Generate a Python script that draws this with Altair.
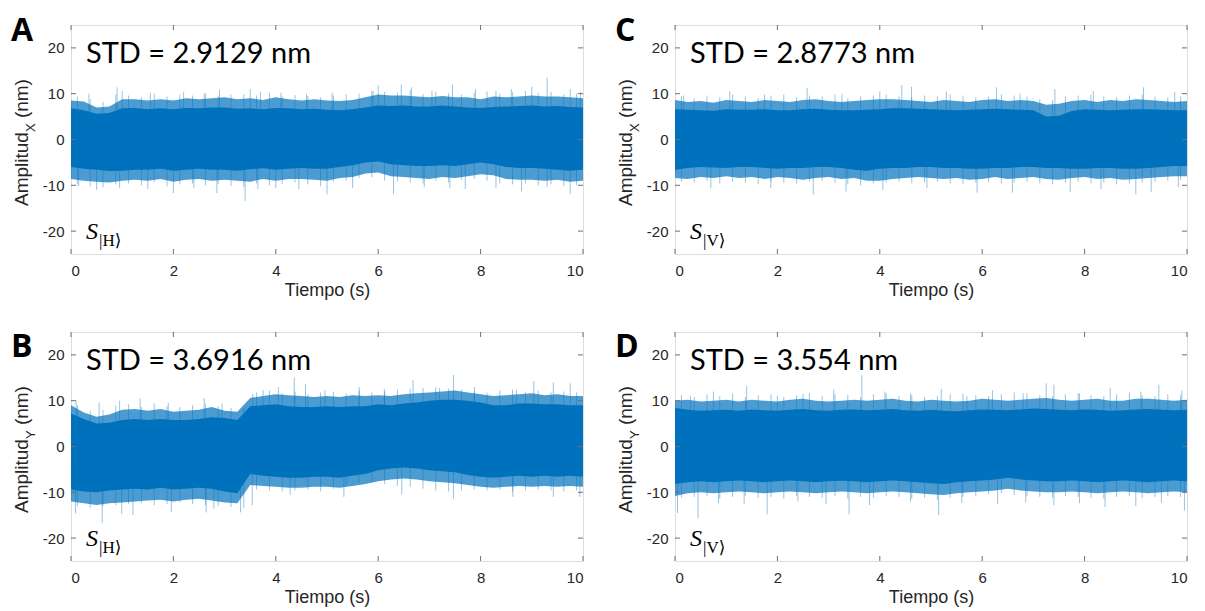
import altair as alt
import pandas as pd

# ---------------- data ----------------
T = [0, 0.25, 0.5, 0.75, 1, 1.25, 1.5, 1.75, 2, 2.25, 2.5, 2.75, 3, 3.25, 3.5, 3.75,
     4, 4.25, 4.5, 4.75, 5, 5.25, 5.5, 5.75, 6, 6.25, 6.5, 6.75, 7, 7.25, 7.5, 7.75,
     8, 8.25, 8.5, 8.75, 9, 9.25, 9.5, 9.75, 10]
T_MID = [0.125, 0.375, 0.625, 0.875, 1.125, 1.375, 1.625, 1.875, 2.125, 2.375, 2.625, 2.875,
         3.125, 3.375, 3.625, 3.875, 4.125, 4.375, 4.625, 4.875, 5.125, 5.375, 5.625, 5.875,
         6.125, 6.375, 6.625, 6.875, 7.125, 7.375, 7.625, 7.875, 8.125, 8.375, 8.625, 8.875,
         9.125, 9.375, 9.625, 9.875]

XTICKS = [0, 2, 4, 6, 8, 10]
YTICKS = [-20, -10, 0, 10, 20]

# Panel A  (Amplitud X, S|H>)
A_fr_hi = [8.5, 8.3, 7.0, 7.2, 8.8, 8.8, 8.5, 8.8, 8.5, 9.0, 8.8, 9.0, 9.2, 8.8, 9.0, 8.6, 9.2, 8.8, 8.5, 8.8, 8.5,
           8.4, 8.6, 9.2, 9.8, 9.6, 9.6, 9.4, 9.2, 9.5, 9.2, 9.2, 8.8, 9.4, 9.2, 9.4, 9.6, 9.4, 9.4, 9.2, 9.0]
A_co_hi = [6.8, 6.4, 5.6, 5.8, 6.8, 6.9, 6.6, 6.8, 6.6, 6.9, 6.8, 7.0, 7.0, 6.7, 6.8, 6.6, 6.9, 6.8, 6.6, 6.7, 6.5,
           6.4, 6.6, 7.0, 7.4, 7.3, 7.4, 7.2, 7.2, 7.4, 7.2, 7.0, 6.9, 7.1, 7.2, 7.3, 7.4, 7.2, 7.3, 7.1, 7.0]
A_co_lo = [-6.0, -6.4, -6.6, -6.9, -6.8, -6.6, -6.6, -6.4, -6.8, -6.6, -6.4, -6.6, -6.6, -6.8, -6.5, -6.3, -6.6,
           -6.4, -6.2, -6.4, -6.4, -6.0, -5.6, -5.0, -4.8, -5.4, -5.6, -5.8, -5.8, -5.6, -5.8, -5.4, -5.0, -5.4,
           -6.0, -6.2, -6.2, -6.4, -6.6, -6.8, -6.6]
A_fr_lo = [-8.6, -9.0, -9.2, -9.4, -9.0, -8.8, -9.0, -8.6, -9.2, -8.8, -8.6, -9.0, -8.8, -9.0, -9.2, -8.6, -9.0,
           -8.6, -8.6, -8.8, -9.0, -8.4, -8.2, -7.4, -7.2, -8.0, -8.2, -8.4, -8.6, -8.2, -8.4, -8.0, -7.6, -7.8,
           -8.6, -8.8, -8.8, -9.0, -8.8, -9.2, -9.0]
A_mid_up = [9.4, 8.8, 8.2, 9.8, 9.6, 9.2, 10.0, 9.4, 9.8, 9.6, 10.1, 9.4, 9.8, 9.9, 9.6, 10.2, 9.4, 9.7, 9.5, 9.2,
            9.6, 9.9, 10.0, 10.6, 10.4, 10.2, 10.8, 9.9, 10.4, 10.1, 9.8, 10.2, 10.5, 10.0, 10.3, 10.6, 10.2, 10.4,
            9.9, 10.1]
A_mid_dn = [-9.8, -10.2, -10.4, -9.8, -9.6, -10.0, -9.4, -10.2, -9.8, -9.6, -10.0, -9.7, -10.1, -10.4, -9.6, -10.0,
            -9.8, -9.4, -9.8, -10.2, -9.2, -9.0, -8.4, -8.2, -9.0, -9.2, -9.4, -9.6, -9.0, -9.4, -8.8, -8.6, -9.0,
            -9.6, -9.8, -9.6, -10.0, -9.8, -10.2, -10.0]
A_up_t = [0.35, 0.9, 1.0, 1.55, 2.2, 2.6, 2.9, 3.5, 3.7, 4.1, 4.6, 5.1, 5.9, 6.0, 6.45, 6.65, 7.05, 7.45, 7.9, 8.3,
          8.6, 9.0, 9.3, 9.75, 9.95]
A_up_v = [10.0, 11.4, 10.6, 10.2, 10.4, 10.0, 10.9, 11.0, 10.4, 10.2, 9.9, 10.2, 10.6, 11.8, 12.0, 11.4, 10.6, 12.0,
          11.0, 10.6, 11.0, 11.5, 13.5, 11.0, 10.4]
A_dn_t = [0.15, 0.5, 0.95, 1.5, 2.0, 2.4, 2.85, 3.4, 3.65, 4.0, 4.45, 5.0, 5.5, 6.3, 6.9, 7.4, 7.7, 8.3, 8.8, 9.3, 9.75]
A_dn_v = [-10.2, -11.0, -10.6, -10.8, -11.7, -10.6, -11.7, -13.4, -10.8, -10.6, -10.8, -12.0, -10.6, -11.9, -10.4,
          -10.6, -10.8, -10.6, -11.3, -10.4, -11.9]

# Panel B  (Amplitud Y, S|H>)
B_fr_hi = [9.0, 7.4, 6.5, 7.0, 8.0, 8.2, 7.8, 8.2, 7.6, 7.8, 8.0, 8.6, 7.8, 7.6, 10.6, 11.0, 11.4, 11.2, 11.0, 10.8,
           11.0, 10.8, 11.2, 11.0, 11.2, 11.0, 11.4, 11.6, 11.8, 12.0, 12.2, 11.8, 11.4, 11.0, 11.2, 11.4, 11.6,
           11.2, 11.4, 11.0, 11.0]
B_co_hi = [7.2, 6.0, 5.0, 5.2, 5.8, 6.0, 5.8, 6.0, 5.8, 5.8, 6.0, 6.4, 6.2, 5.8, 8.8, 9.0, 9.2, 8.8, 8.6, 8.6, 8.8,
           8.6, 8.8, 8.8, 9.2, 9.0, 9.4, 9.6, 10.0, 10.2, 10.2, 10.0, 9.6, 9.0, 9.0, 9.4, 9.4, 9.2, 9.2, 9.0, 9.0]
B_co_lo = [-9.4, -9.8, -10.0, -9.6, -9.4, -9.2, -9.4, -9.0, -9.4, -9.2, -9.0, -9.2, -9.8, -10.2, -6.0, -6.4, -6.6,
           -6.8, -6.8, -6.6, -6.6, -6.8, -6.4, -6.0, -5.2, -4.8, -4.6, -4.8, -5.2, -5.4, -5.6, -6.2, -6.6, -6.8,
           -6.6, -6.4, -6.6, -6.4, -6.6, -6.4, -6.6]
B_fr_lo = [-12.0, -12.4, -12.8, -12.4, -12.2, -12.0, -11.8, -11.6, -12.0, -11.6, -11.4, -11.8, -12.2, -12.4, -8.4,
           -8.6, -8.8, -9.0, -9.0, -8.8, -8.8, -9.0, -8.6, -8.2, -7.6, -7.2, -7.0, -7.2, -7.6, -7.8, -8.0, -8.4,
           -8.8, -9.0, -8.8, -8.6, -8.8, -8.6, -8.8, -8.6, -8.8]
B_mid_up = [9.0, 7.8, 8.0, 8.9, 9.2, 8.6, 9.4, 8.8, 8.6, 9.0, 9.4, 8.8, 8.4, 8.6, 11.8, 12.2, 11.6, 12.0, 11.4, 11.8,
            12.0, 11.6, 12.2, 11.8, 12.0, 12.4, 12.6, 12.8, 13.0, 12.6, 12.4, 12.0, 11.8, 12.2, 12.4, 12.0, 12.2,
            11.8, 12.0, 11.8]
B_mid_dn = [-13.0, -13.4, -13.0, -12.8, -12.6, -12.4, -12.8, -12.6, -12.2, -12.6, -12.8, -13.0, -13.2, -13.4, -9.4,
            -9.6, -9.8, -9.6, -9.4, -9.8, -9.2, -8.6, -8.0, -7.8, -8.2, -8.6, -8.8, -9.2, -9.6, -9.8, -9.6, -9.4,
            -9.6, -9.4, -9.8, -9.6, -9.4, -9.6, -9.8, -9.6]
B_up_t = [0.1, 0.55, 0.95, 1.35, 1.9, 2.6, 2.95, 3.55, 3.75, 4.05, 4.36, 4.58, 4.96, 5.63, 6.12, 6.68, 7.2, 7.47,
          7.88, 8.7, 9.04, 9.42, 9.75]
B_up_v = [10.0, 9.6, 10.0, 10.5, 9.5, 10.6, 9.4, 11.5, 12.3, 13.0, 15.0, 13.6, 12.3, 13.0, 12.5, 14.5, 12.8, 15.6,
          13.0, 12.4, 14.3, 14.0, 13.8]
B_dn_t = [0.09, 0.61, 0.99, 1.21, 1.96, 2.64, 2.79, 3.31, 3.54, 4.28, 5.33, 6.46, 7.47, 8.63, 9.42, 9.94]
B_dn_v = [-14.6, -16.6, -14.7, -15.0, -14.3, -14.4, -13.6, -14.4, -12.8, -10.6, -11.0, -10.5, -11.4, -11.0, -11.0,
          -11.0]

# Panel C  (Amplitud X, S|V>)
C_fr_hi = [8.6, 8.2, 8.4, 8.0, 8.6, 8.4, 8.2, 8.6, 8.4, 8.2, 8.6, 8.8, 8.4, 8.2, 8.4, 8.6, 8.8, 8.8, 8.6, 8.4, 8.2,
           8.6, 8.4, 8.2, 8.6, 8.8, 8.4, 8.6, 8.4, 7.6, 7.8, 8.4, 8.6, 8.2, 8.6, 8.4, 8.8, 8.6, 8.4, 8.2, 8.4]
C_co_hi = [6.6, 6.5, 6.4, 6.3, 6.6, 6.5, 6.5, 6.6, 6.4, 6.4, 6.6, 6.7, 6.5, 6.4, 6.4, 6.5, 6.6, 6.8, 6.8, 6.7, 6.6,
           6.5, 6.4, 6.5, 6.6, 6.7, 6.6, 6.5, 6.4, 5.0, 5.2, 6.2, 6.6, 6.5, 6.4, 6.5, 6.6, 6.6, 6.5, 6.4, 6.4]
C_co_lo = [-6.6, -6.2, -6.0, -6.1, -6.2, -6.0, -6.0, -6.2, -6.4, -6.2, -6.2, -6.0, -6.0, -6.2, -6.6, -6.8, -6.4,
           -6.2, -6.2, -6.0, -6.0, -6.2, -6.2, -6.4, -6.4, -6.2, -6.2, -6.0, -6.0, -6.2, -6.2, -6.4, -6.4, -6.2,
           -6.2, -6.4, -6.4, -6.2, -6.0, -5.8, -5.8]
C_fr_lo = [-8.4, -8.6, -8.2, -8.4, -8.0, -8.4, -8.2, -8.6, -8.2, -8.4, -8.8, -8.4, -8.2, -8.6, -8.4, -9.0, -9.0,
           -8.6, -8.4, -8.2, -8.4, -8.6, -8.4, -8.8, -8.6, -8.2, -8.6, -8.4, -8.2, -8.6, -8.8, -8.4, -8.2, -8.6,
           -8.4, -8.8, -8.6, -8.4, -8.2, -8.0, -8.0]
C_mid_up = [9.4, 9.0, 9.6, 9.2, 9.8, 9.4, 9.0, 9.6, 9.8, 9.2, 9.6, 9.4, 9.8, 9.0, 9.4, 9.6, 9.8, 9.4, 9.2, 9.6,
            9.4, 9.8, 9.6, 9.2, 9.4, 9.8, 9.6, 9.4, 8.8, 8.6, 9.4, 9.6, 9.8, 9.4, 9.2, 9.6, 9.8, 9.4, 9.2, 9.4]
C_mid_dn = [-9.2, -9.4, -9.0, -9.6, -9.2, -9.4, -9.8, -9.2, -9.4, -9.6, -9.2, -9.0, -9.4, -9.8, -10.0, -9.6, -9.4,
            -9.2, -9.6, -9.4, -9.2, -9.6, -9.8, -9.4, -9.2, -9.6, -9.4, -9.2, -9.6, -9.8, -9.4, -9.2, -9.6, -9.4,
            -9.8, -9.6, -9.4, -9.2, -9.0, -8.8]
C_up_t = [0.17, 1.07, 1.75, 2.58, 3.26, 4.0, 4.43, 4.62, 5.3, 6.28, 6.74, 7.42, 8.17, 9.15, 9.76]
C_up_v = [9.6, 10.5, 9.8, 11.3, 10.0, 10.5, 11.9, 11.5, 10.4, 11.4, 10.0, 11.0, 10.6, 11.4, 10.4]
C_dn_t = [0.7, 1.87, 2.7, 3.34, 4.06, 4.92, 5.9, 6.59, 7.72, 8.32, 9.0, 9.3, 9.83]
C_dn_v = [-10.6, -10.6, -12.0, -11.4, -11.0, -10.6, -11.6, -11.6, -11.4, -10.8, -12.0, -11.5, -10.4]

# Panel D  (Amplitud Y, S|V>)
D_fr_hi = [10.0, 10.2, 9.8, 10.0, 10.2, 9.8, 10.2, 10.0, 9.8, 10.2, 10.4, 10.0, 9.8, 10.0, 10.2, 10.0, 10.2, 10.4,
           10.0, 9.8, 10.2, 10.0, 9.8, 10.0, 10.4, 10.2, 10.0, 10.2, 10.4, 10.6, 10.2, 10.0, 10.2, 10.4, 10.0, 10.0,
           10.4, 10.4, 10.2, 10.0, 10.2]
D_co_hi = [8.4, 8.0, 7.8, 7.9, 8.0, 7.8, 8.1, 7.9, 7.8, 8.0, 8.2, 7.9, 7.8, 8.0, 8.1, 7.9, 8.0, 8.2, 7.9, 7.8, 8.0,
           7.8, 7.7, 7.9, 8.1, 8.0, 7.9, 8.1, 8.3, 8.2, 8.0, 7.9, 8.1, 8.0, 7.8, 7.9, 8.1, 8.2, 8.0, 7.9, 8.0]
D_co_lo = [-8.2, -7.8, -7.6, -7.8, -7.6, -7.4, -7.6, -7.8, -7.6, -7.4, -7.6, -7.8, -7.6, -7.5, -7.6, -7.8, -7.6,
           -7.4, -7.6, -7.8, -8.0, -8.2, -7.8, -7.6, -7.4, -7.2, -6.8, -7.2, -7.4, -7.6, -7.6, -7.4, -7.6, -7.8,
           -7.6, -7.4, -7.6, -7.8, -7.6, -7.4, -7.6]
D_fr_lo = [-10.8, -10.2, -10.0, -10.2, -10.0, -9.8, -10.0, -10.2, -10.0, -9.8, -10.0, -10.2, -10.0, -9.8, -10.0,
           -10.2, -10.0, -9.8, -10.0, -10.2, -10.4, -10.6, -10.2, -10.0, -9.8, -9.6, -9.2, -9.6, -9.8, -10.0, -10.0,
           -9.8, -10.0, -10.2, -10.0, -9.8, -10.0, -10.2, -10.0, -9.8, -10.0]
D_mid_up = [11.2, 10.8, 11.4, 11.0, 11.6, 10.8, 11.2, 11.4, 10.8, 11.2, 11.6, 11.0, 11.4, 11.2, 10.8, 11.4, 11.6,
            11.0, 11.2, 10.8, 11.0, 11.4, 11.6, 11.2, 11.0, 11.4, 11.8, 11.6, 11.2, 11.0, 11.4, 11.6, 11.2, 11.0,
            11.4, 11.8, 11.2, 11.0, 11.4, 11.2]
D_mid_dn = [-11.2, -11.0, -10.8, -11.4, -11.0, -10.8, -11.2, -11.0, -11.4, -10.8, -11.0, -11.2, -10.8, -11.4,
            -11.0, -11.2, -10.8, -11.0, -11.4, -11.2, -11.6, -11.2, -11.0, -10.8, -10.4, -10.2, -10.6, -10.8, -11.0,
            -11.2, -10.8, -11.0, -11.2, -11.4, -11.0, -10.8, -11.2, -11.0, -10.8, -11.0]
D_up_t = [0.3, 0.75, 1.4, 2.0, 2.5, 3.1, 3.65, 4.1, 4.6, 5.2, 5.7, 6.2, 6.8, 7.25, 7.4, 7.9, 8.5, 9.1, 9.45, 9.9]
D_up_v = [11.0, 12.0, 13.2, 11.0, 11.5, 12.4, 15.6, 12.0, 11.6, 12.6, 11.0, 12.3, 11.6, 13.8, 13.5, 11.6, 12.8,
          12.0, 13.5, 12.2]
D_dn_t = [0.05, 0.45, 0.85, 1.35, 1.8, 2.4, 2.95, 3.4, 3.8, 4.6, 5.15, 5.6, 6.3, 6.85, 7.4, 7.9, 8.4, 9.0, 9.5,
          9.95]
D_dn_v = [-14.5, -15.6, -12.4, -12.6, -14.8, -12.0, -12.6, -14.8, -12.8, -12.0, -15.0, -12.3, -12.5, -12.2, -12.8,
          -12.4, -13.2, -13.0, -12.3, -14.0]

LETTERS = ["A", "B", "C", "D"]
STD_TEXT = ["STD = 2.9129 nm", "STD = 3.6916 nm", "STD = 2.8773 nm", "STD = 3.554 nm"]
AXIS_SUB = ["X", "Y", "X", "Y"]
STATE = ["|H⟩", "|H⟩", "|V⟩", "|V⟩"]

# ---------------- styling ----------------
W, H = 512, 229
BLUE = "#0072BD"
TXT = "#262626"
BOX = "#6e6e6e"
SANS = "Liberation Sans"

XS = alt.Scale(domain=[0, 10], nice=False, zero=False)
YS = alt.Scale(domain=[-25, 25], nice=False, zero=False)
XAX = alt.Axis(values=XTICKS, title="Tiempo (s)", grid=False, ticks=False, domain=False,
               labelFont=SANS, labelFontSize=15, labelColor=TXT, labelPadding=9,
               titleFont=SANS, titleFontSize=18, titleFontWeight="normal", titleColor=TXT,
               titlePadding=3)
YAX = alt.Axis(values=YTICKS, title=None, grid=False, ticks=False, domain=False,
               labelFont=SANS, labelFontSize=15, labelColor=TXT, labelPadding=7,
               labelExpr="toString(datum.value)")


def X(field="t"):
    return alt.X(f"{field}:Q", scale=XS, axis=XAX)


def Y(field):
    return alt.Y(f"{field}:Q", scale=YS, axis=YAX)


def txt(text, x, y, **kw):
    return alt.Chart(pd.DataFrame({"k": [0]})).mark_text(text=text, **kw).encode(
        x=alt.value(x), y=alt.value(y))


def panel(i, fr_hi, co_hi, co_lo, fr_lo, mid_up, mid_dn, up_t, up_v, dn_t, dn_v, letter_y):
    band = pd.DataFrame({"t": T, "fh": fr_hi, "ch": co_hi, "cl": co_lo, "fl": fr_lo})
    spikes = pd.DataFrame({"t": up_t + dn_t + T_MID + T_MID, "v": up_v + dn_v + mid_up + mid_dn})
    xt = pd.DataFrame({"t": XTICKS})
    yt = pd.DataFrame({"v": YTICKS})

    spike_l = alt.Chart(spikes).mark_rule(color=BLUE, opacity=0.42, strokeWidth=1).encode(
        x=X(), y=Y("v"), y2=alt.datum(0))
    fringe = alt.Chart(band).mark_area(color=BLUE, opacity=0.7).encode(x=X(), y=Y("fh"), y2="fl:Q")
    core = alt.Chart(band).mark_area(color=BLUE, opacity=1).encode(x=X(), y=Y("ch"), y2="cl:Q")

    tk = dict(color=BOX, strokeWidth=1)
    xb = alt.Chart(xt).mark_rule(**tk).encode(x=X(), y=alt.value(H), y2=alt.value(H - 5))
    xtp = alt.Chart(xt).mark_rule(**tk).encode(x=X(), y=alt.value(0), y2=alt.value(5))
    yl = alt.Chart(yt).mark_rule(**tk).encode(y=Y("v"), x=alt.value(0), x2=alt.value(5))
    yr = alt.Chart(yt).mark_rule(**tk).encode(y=Y("v"), x=alt.value(W), x2=alt.value(W - 5))

    # y-axis title with subscript, built from rotated pieces
    ybase = 181
    t1 = txt("Amplitud", -43, ybase, angle=270, align="left", baseline="alphabetic",
             font=SANS, fontSize=19, color=TXT)
    t2 = txt(AXIS_SUB[i], -36, ybase - 73.9, angle=270, align="left", baseline="alphabetic",
             font=SANS, fontSize=13, color=TXT)
    t3 = txt("(nm)", -43, ybase - 73.9 - 8.7 - 5.3, angle=270, align="left", baseline="alphabetic",
             font=SANS, fontSize=19, color=TXT)

    letter = txt(LETTERS[i], -60, letter_y, align="left", baseline="alphabetic",
                 font="Open Sans", fontSize=32, fontWeight="bold", color="#000000")
    std = txt(STD_TEXT[i], 15, 38, align="left", baseline="alphabetic",
              font="Lato", fontSize=29, color="#000000")
    s1 = txt("S", 15, 214, align="left", baseline="alphabetic",
             font="Liberation Serif", fontSize=24, fontStyle="italic", color="#000000")
    s2 = txt(STATE[i], 28, 221, align="left", baseline="alphabetic",
             font="'Liberation Serif', 'DejaVu Serif', serif", fontSize=17, color="#000000")

    return alt.layer(spike_l, fringe, core, xb, xtp, yl, yr, t1, t2, t3, letter, std, s1, s2).properties(
        width=W, height=H)


pA = panel(0, A_fr_hi, A_co_hi, A_co_lo, A_fr_lo, A_mid_up, A_mid_dn, A_up_t, A_up_v, A_dn_t, A_dn_v, 16)
pB = panel(1, B_fr_hi, B_co_hi, B_co_lo, B_fr_lo, B_mid_up, B_mid_dn, B_up_t, B_up_v, B_dn_t, B_dn_v, 25)
pC = panel(2, C_fr_hi, C_co_hi, C_co_lo, C_fr_lo, C_mid_up, C_mid_dn, C_up_t, C_up_v, C_dn_t, C_dn_v, 16)
pD = panel(3, D_fr_hi, D_co_hi, D_co_lo, D_fr_lo, D_mid_up, D_mid_dn, D_up_t, D_up_v, D_dn_t, D_dn_v, 25)

top = alt.hconcat(pA, pC, spacing=30)
bottom = alt.hconcat(pB, pD, spacing=30)
chart = alt.vconcat(top, bottom, spacing=30).properties(
    padding={"left": 2, "top": 6, "right": 0, "bottom": 0}
).configure_view(stroke=BOX, strokeWidth=1).configure(background="white")

chart.save("out.html", embed_options={"renderer": "svg", "actions": False})
